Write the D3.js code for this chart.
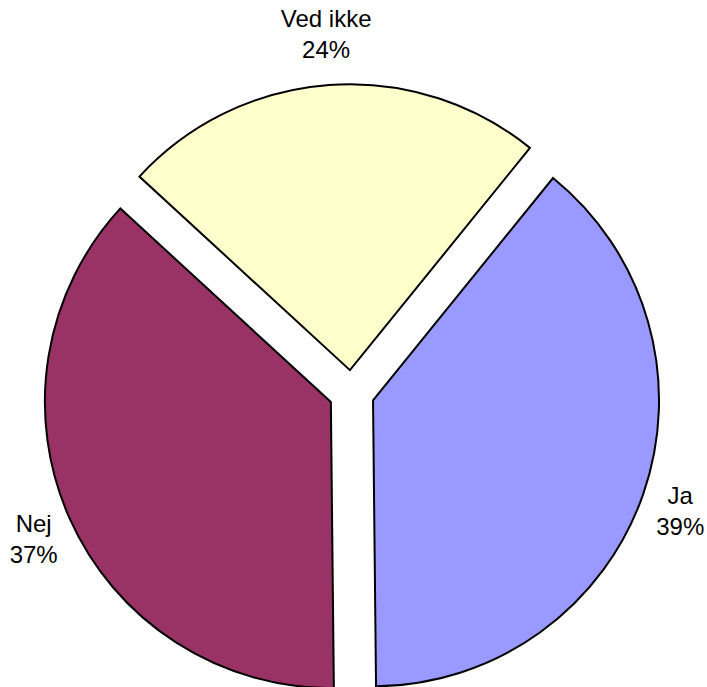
<!DOCTYPE html>
<html>
<head>
<meta charset="utf-8">
<script src="https://cdn.jsdelivr.net/npm/d3@7"></script>
<style>
  html, body { margin: 0; padding: 0; background: #ffffff; }
  svg { display: block; }
</style>
</head>
<body>
<script>
// Survey answers (percent)
const categories = ["Ja", "Nej", "Ved ikke"];
const values = [39, 37, 24];
const colors = ["#9999FF", "#993366", "#FFFFCC"];

const width = 707, height = 687;
const cx = 351.6, cy = 392.8;
const radius = 286;
const explode = 22.7;            // outward shift of each slice
const labelRx = 348, labelRy = 360;  // labels ride on an ellipse around the pie
const fontSize = 24, lineGap = 31.5, capH = 17;

const svg = d3.select("body").append("svg")
  .attr("width", width)
  .attr("height", height);

const start = 39 * Math.PI / 180;
const pie = d3.pie().sort(null).value(d => d.value)
  .startAngle(start).endAngle(start + 2 * Math.PI);

const data = categories.map((c, i) => ({ name: c, value: values[i], color: colors[i] }));
const arcs = pie(data);
const arc = d3.arc().innerRadius(0).outerRadius(radius);

const g = svg.append("g").attr("transform", `translate(${cx},${cy})`);

const unit = a => [Math.sin(a), -Math.cos(a)];

g.selectAll("path.slice")
  .data(arcs)
  .join("path")
  .attr("class", "slice")
  .attr("d", arc)
  .attr("transform", d => {
    const [ux, uy] = unit((d.startAngle + d.endAngle) / 2);
    return `translate(${ux * explode},${uy * explode})`;
  })
  .attr("fill", d => d.data.color)
  .attr("stroke", "#000")
  .attr("stroke-width", 2)
  .attr("stroke-linejoin", "miter");

const labels = g.selectAll("text.lbl")
  .data(arcs)
  .join("text")
  .attr("class", "lbl")
  .attr("font-family", "'Liberation Sans', Arial, sans-serif")
  .attr("font-size", fontSize)
  .attr("fill", "#000")
  .attr("text-anchor", "middle");

// Two-line label (name, percent) centred on the slice bisector
labels.each(function(d) {
  const [ux, uy] = unit((d.startAngle + d.endAngle) / 2);
  const x = ux * labelRx, yc = uy * labelRy;
  const b1 = yc - (lineGap + capH) / 2 + capH;
  const t = d3.select(this);
  t.append("tspan").attr("x", x).attr("y", b1).text(d.data.name);
  t.append("tspan").attr("x", x).attr("y", b1 + lineGap).text(d.data.value + "%");
});
</script>
</body>
</html>
